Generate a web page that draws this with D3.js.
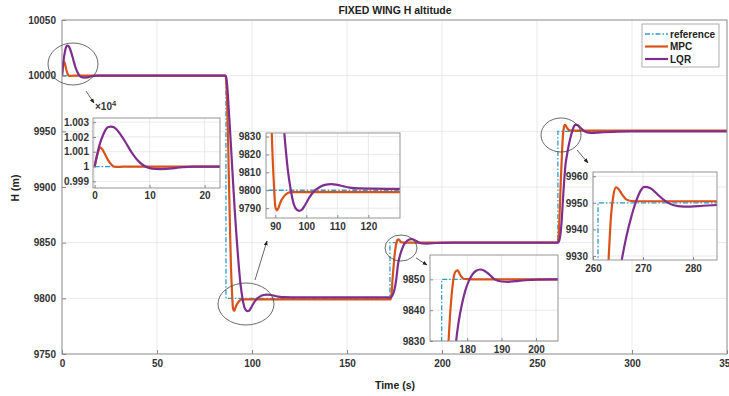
<!DOCTYPE html>
<html>
<head>
<meta charset="utf-8">
<script src="https://cdn.jsdelivr.net/npm/d3@7"></script>
<style>
  body { margin: 0; background: #fff; }
  text { font-family: "Liberation Sans", Arial, sans-serif; }
</style>
</head>
<body>
<div id="chart"></div>
<script>
// reference step command
var refT = [0, 86.3, 172.6, 261, 350];
var refH = [10000, 9800, 9850, 9950, 9950];

// MPC response
var mpcT = [0, 0.5, 1, 1.5, 2, 2.5, 3, 3.5, 4.5, 6,
    86, 86.5, 87, 87.5, 88, 88.5, 88.9, 89.5, 90, 90.5,
    91, 91.5, 92, 93, 94, 95, 100, 173, 173.5, 174,
    174.6, 175, 175.5, 176, 176.5, 177.2, 178.2, 179, 180, 183,
    261, 261.5, 262, 262.5, 263.1, 263.6, 264.1, 264.6, 265.1, 265.7,
    266.7, 267.7, 270, 350];
var mpcH = [10000, 10008, 10013, 10011, 10007.5, 10004, 10001.5, 10000, 9999.8, 10000,
    10000, 9993, 9970, 9935, 9895, 9857, 9830, 9805, 9791, 9788.8,
    9790, 9792.5, 9794.5, 9797, 9798.5, 9799, 9799, 9799, 9805, 9818,
    9830, 9838, 9845, 9850, 9852.3, 9852.9, 9851, 9850.2, 9850.1, 9850,
    9850, 9860, 9880, 9905, 9928, 9945, 9953, 9955.8, 9955.2, 9953.5,
    9951.2, 9950.7, 9950.6, 9950.6];

// LQR response
var lqrT = [0, 0.5, 1, 1.5, 2, 2.5, 3, 3.5, 4, 5,
    6, 7, 8, 9, 10, 11, 12, 13, 14, 15,
    16, 18, 20, 86, 86.5, 87, 88, 89, 90, 91,
    92, 93, 94, 95, 96, 97, 97.7, 98.5, 99.5, 101,
    102, 103, 104.5, 106, 108, 110, 112, 114, 117, 122,
    130, 173, 173.5, 174, 175, 176, 176.8, 177.5, 178.5, 179.5,
    180.5, 181.5, 182.5, 183.8, 185, 186.5, 188, 190, 192, 194,
    197, 200, 206, 261, 261.5, 262, 262.5, 263, 263.5, 264,
    264.5, 265, 265.8, 266.7, 267.7, 268.7, 269.5, 270.3, 271.5, 273,
    275, 277, 279.5, 282, 285, 290, 300, 350];
var lqrH = [10000, 10009, 10016, 10021, 10025, 10026.7, 10027, 10026.5, 10025, 10020,
    10014, 10008, 10003.5, 10000.5, 9998.9, 9998.4, 9998.3, 9998.4, 9998.7, 9999.2,
    9999.6, 10000, 10000, 10000, 9998, 9990, 9963, 9935, 9905, 9877,
    9852, 9830, 9812, 9800, 9792, 9789, 9788.5, 9789, 9791.5, 9796,
    9798.5, 9800.2, 9802, 9803, 9803.4, 9803, 9802.2, 9801.5, 9801, 9800.9,
    9800.8, 9800.8, 9801.5, 9803, 9808, 9818, 9830, 9836, 9842, 9846.5,
    9849.5, 9851.5, 9852.7, 9853.2, 9852.8, 9851.5, 9850, 9849.3, 9849.2, 9849.4,
    9849.7, 9849.9, 9850, 9850, 9851, 9854, 9860, 9870, 9884, 9898,
    9910, 9920, 9929, 9937.5, 9945, 9951, 9954.5, 9956, 9955.5, 9953,
    9950, 9948.8, 9948.6, 9948.9, 9949.2, 9949.6, 9950, 9950];

// tick values and labels
var mainXTicks = [0, 50, 100, 150, 200, 250, 300, 350];
var mainYTicks = [9750, 9800, 9850, 9900, 9950, 10000, 10050];
var inset1XTicks = [0, 10, 20];
var inset1YTicks = [9990, 10000, 10010, 10020, 10030];
var inset1YLabels = ["0.999", "1", "1.001", "1.002", "1.003"];
var inset2XTicks = [90, 100, 110, 120];
var inset2YTicks = [9790, 9800, 9810, 9820, 9830];
var inset3XTicks = [180, 190, 200];
var inset3YTicks = [9830, 9840, 9850];
var inset4XTicks = [260, 270, 280];
var inset4YTicks = [9930, 9940, 9950, 9960];

var seriesNames = ["reference", "MPC", "LQR"];
var colors = { reference: "#2b9bd3", MPC: "#d95319", LQR: "#7e2f8e" };

var svgWidth = 729, svgHeight = 396;
var margin = { top: 20, right: 2, bottom: 42, left: 62 };
var width = svgWidth - margin.left - margin.right;
var height = svgHeight - margin.top - margin.bottom;

var svg = d3.select("#chart").append("svg")
    .attr("width", svgWidth)
    .attr("height", svgHeight);

var defs = svg.append("defs");
defs.append("marker")
    .attr("id", "arrow")
    .attr("viewBox", "0 0 10 10")
    .attr("refX", 9).attr("refY", 5)
    .attr("markerWidth", 7).attr("markerHeight", 7)
    .attr("orient", "auto")
    .append("path")
    .attr("d", "M0,1 L10,5 L0,9 z")
    .attr("fill", "#222");

var refData = refT.map((t, i) => ({ t: t, h: refH[i] }));
var mpcData = mpcT.map((t, i) => ({ t: t, h: mpcH[i] }));
var lqrData = lqrT.map((t, i) => ({ t: t, h: lqrH[i] }));

// draw one panel (main plot or inset)
function drawPanel(p) {
    var g = svg.append("g").attr("transform", `translate(${p.left},${p.top})`);
    var w = p.width, h = p.height;
    var x = d3.scaleLinear().domain(p.xd).range([0, w]);
    var y = d3.scaleLinear().domain(p.yd).range([h, 0]);

    g.append("rect").attr("width", w).attr("height", h).attr("fill", "#fff");

    // grid
    g.append("g").selectAll("line").data(p.xt).enter().append("line")
        .attr("x1", d => x(d)).attr("x2", d => x(d))
        .attr("y1", 0).attr("y2", h)
        .attr("stroke", "#e3e3e3").attr("stroke-width", 0.8);
    g.append("g").selectAll("line").data(p.yt).enter().append("line")
        .attr("y1", d => y(d)).attr("y2", d => y(d))
        .attr("x1", 0).attr("x2", w)
        .attr("stroke", "#e3e3e3").attr("stroke-width", 0.8);

    var id = "clip" + p.id;
    defs.append("clipPath").attr("id", id)
        .append("rect").attr("width", w).attr("height", h);
    var lines = g.append("g").attr("clip-path", `url(#${id})`);

    var refLine = d3.line().x(d => x(d.t)).y(d => y(d.h)).curve(d3.curveStepAfter);
    var respLine = d3.line().x(d => x(d.t)).y(d => y(d.h)).curve(d3.curveMonotoneX);

    lines.append("path").datum(refData)
        .attr("d", refLine).attr("fill", "none")
        .attr("stroke", colors.reference).attr("stroke-width", 1.3)
        .attr("stroke-dasharray", "5,2,1.5,2");
    lines.append("path").datum(mpcData)
        .attr("d", respLine).attr("fill", "none")
        .attr("stroke", colors.MPC).attr("stroke-width", 2.2);
    lines.append("path").datum(lqrData)
        .attr("d", respLine).attr("fill", "none")
        .attr("stroke", colors.LQR).attr("stroke-width", 2.2);

    // axes, ticks pointing inward
    var xAxis = d3.axisBottom(x).tickValues(p.xt).tickSizeInner(-p.tick).tickSizeOuter(0).tickPadding(p.pad);
    var yAxis = d3.axisLeft(y).tickValues(p.yt).tickSizeInner(-p.tick).tickSizeOuter(0).tickPadding(p.pad);
    if (p.ylab) yAxis.tickFormat((d, i) => p.ylab[i]);
    else yAxis.tickFormat(d3.format("d"));

    var gx = g.append("g").attr("transform", `translate(0,${h})`).call(xAxis);
    var gy = g.append("g").call(yAxis);
    [gx, gy].forEach(a => {
        a.select(".domain").remove();
        a.selectAll("line").attr("stroke", "#8a8a8a");
        a.selectAll("text")
            .attr("fill", "#333")
            .style("font-size", p.font + "px")
            .style("font-weight", "bold")
            .style("font-family", "'Liberation Sans', Arial, sans-serif");
    });

    g.append("rect").attr("width", w).attr("height", h)
        .attr("fill", "none").attr("stroke", "#8a8a8a").attr("stroke-width", 0.9);

    return { g: g, x: x, y: y };
}

// main plot
var main = drawPanel({
    id: "main", left: margin.left, top: margin.top, width: width, height: height,
    xd: [0, 350], yd: [9750, 10050], xt: mainXTicks, yt: mainYTicks,
    tick: 4, pad: 6, font: 10
});

// title and axis labels
svg.append("text")
    .attr("x", 395).attr("y", 14)
    .attr("text-anchor", "middle")
    .style("font-size", "10.5px").style("font-weight", "bold").attr("fill", "#222")
    .text("FIXED WING H altitude");
svg.append("text")
    .attr("x", 395).attr("y", 389)
    .attr("text-anchor", "middle")
    .style("font-size", "10.5px").style("font-weight", "bold").attr("fill", "#222")
    .text("Time (s)");
svg.append("text")
    .attr("transform", "translate(19,188) rotate(-90)")
    .attr("text-anchor", "middle")
    .style("font-size", "10.5px").style("font-weight", "bold").attr("fill", "#222")
    .text("H (m)");

// ellipses and arrows that point to the zoomed views
var marks = [
    { cx: 73, cy: 64, rx: 25, ry: 21, ax1: 86, ay1: 91, ax2: 94, ay2: 103 },
    { cx: 246, cy: 304, rx: 28, ry: 21, ax1: 255, ay1: 280, ax2: 267, ay2: 241 },
    { cx: 401, cy: 248, rx: 16, ry: 13, ax1: 416, ay1: 258, ax2: 427, ay2: 265 },
    { cx: 561, cy: 135, rx: 20, ry: 17, ax1: 577, ay1: 150, ax2: 588, ay2: 163 }
];
marks.forEach(m => {
    svg.append("ellipse")
        .attr("cx", m.cx).attr("cy", m.cy).attr("rx", m.rx).attr("ry", m.ry)
        .attr("fill", "none").attr("stroke", "#444").attr("stroke-width", 0.8);
    svg.append("line")
        .attr("x1", m.ax1).attr("y1", m.ay1).attr("x2", m.ax2).attr("y2", m.ay2)
        .attr("stroke", "#222").attr("stroke-width", 0.7)
        .attr("marker-end", "url(#arrow)");
});

// insets
var inset1 = drawPanel({
    id: "i1", left: 93, top: 118, width: 127, height: 70,
    xd: [-0.3, 22.8], yd: [9985.5, 10032.8], xt: inset1XTicks, yt: inset1YTicks,
    ylab: inset1YLabels, tick: 3, pad: 4, font: 10
});
var expText = svg.append("text")
    .attr("x", 95).attr("y", 110)
    .style("font-size", "10px").style("font-weight", "bold").attr("fill", "#333");
expText.append("tspan").text("\u00d710");
expText.append("tspan").attr("dy", -4).style("font-size", "7.5px").text("4");

drawPanel({
    id: "i2", left: 266, top: 133, width: 134, height: 85,
    xd: [87, 130.2], yd: [9784.5, 9832], xt: inset2XTicks, yt: inset2YTicks,
    tick: 3, pad: 5, font: 10
});
drawPanel({
    id: "i3", left: 430, top: 255, width: 128, height: 86,
    xd: [169.2, 206.4], yd: [9830, 9857.9], xt: inset3XTicks, yt: inset3YTicks,
    tick: 3, pad: 5, font: 10
});
drawPanel({
    id: "i4", left: 593, top: 172, width: 124, height: 88,
    xd: [260, 284.8], yd: [9928.5, 9961.6], xt: inset4XTicks, yt: inset4YTicks,
    tick: 3, pad: 5, font: 10
});

// legend
var legend = svg.append("g").attr("transform", "translate(642,24)");
legend.append("rect").attr("width", 77).attr("height", 43)
    .attr("fill", "#fff").attr("stroke", "#9a9a9a").attr("stroke-width", 0.8);
seriesNames.forEach((name, i) => {
    var ly = 10 + i * 12.5;
    legend.append("line")
        .attr("x1", 3).attr("x2", 26).attr("y1", ly).attr("y2", ly)
        .attr("stroke", colors[name])
        .attr("stroke-width", name === "reference" ? 1.3 : 2.2)
        .attr("stroke-dasharray", name === "reference" ? "5,2,1.5,2" : null);
    legend.append("text")
        .attr("x", 28).attr("y", ly + 3.5)
        .style("font-size", "10px").style("font-weight", "bold").attr("fill", "#222")
        .text(name);
});
</script>
</body>
</html>
